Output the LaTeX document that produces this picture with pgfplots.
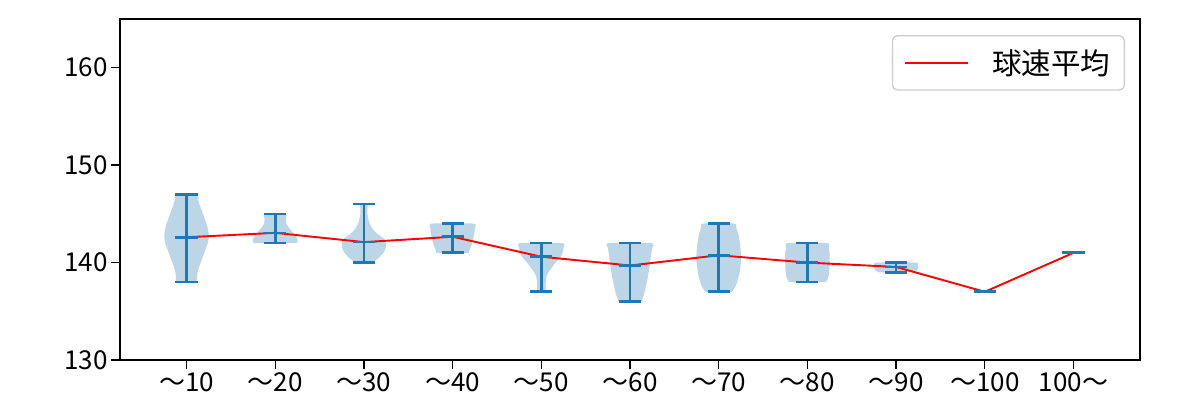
\documentclass[border=0pt]{standalone}
\usepackage{pgfplots}
\pgfplotsset{compat=1.18}
\usepackage{pgfplotstable}
\usepackage{fontspec}
\setmainfont{Noto Sans CJK JP}
\definecolor{c0}{HTML}{1F77B4}
\definecolor{vfill}{HTML}{BCD6E8}

\pgfplotstableread{
p min max mean
1 138 147 142.6
2 142 145 143.05
3 140 146 142.1
4 141 144 142.65
5 137 142 140.6
6 136 142 139.7
7 137 144 140.75
8 138 142 140.0
9 139 140 139.55
10 137 137 137
11 141 141 141
}\stats

\pgfplotstableread{
x y
1 138
1 147
nan nan
2 142
2 145
nan nan
3 140
3 146
nan nan
4 141
4 144
nan nan
5 137
5 142
nan nan
6 136
6 142
nan nan
7 137
7 144
nan nan
8 138
8 142
nan nan
9 139
9 140
}\vlines

% violin outlines: y, half width w, side s (-1 left going up, +1 right going down)
\pgfplotstableread{
y w s
138 0.12 -1
138.5 0.12 -1
139 0.125 -1
139.5 0.14 -1
140 0.16 -1
140.5 0.18 -1
141 0.2 -1
141.5 0.22 -1
142 0.24 -1
142.5 0.25 -1
143 0.25 -1
143.5 0.24 -1
144 0.225 -1
144.5 0.205 -1
145 0.185 -1
145.5 0.165 -1
146 0.145 -1
146.5 0.13 -1
147 0.12 -1
147 0.12 1
146.5 0.13 1
146 0.145 1
145.5 0.165 1
145 0.185 1
144.5 0.205 1
144 0.225 1
143.5 0.24 1
143 0.25 1
142.5 0.25 1
142 0.24 1
141.5 0.22 1
141 0.2 1
140.5 0.18 1
140 0.16 1
139.5 0.14 1
139 0.125 1
138.5 0.12 1
138 0.12 1
}\vA
\pgfplotstableread{
y w s
142 0.245 -1
142.2 0.25 -1
142.5 0.245 -1
143 0.21 -1
143.5 0.16 -1
144 0.125 -1
144.5 0.12 -1
145 0.12 -1
145 0.12 1
144.5 0.12 1
144 0.125 1
143.5 0.16 1
143 0.21 1
142.5 0.245 1
142.2 0.25 1
142 0.245 1
}\vB
\pgfplotstableread{
y w s
140 0.1 -1
140.5 0.17 -1
141 0.22 -1
141.5 0.245 -1
142 0.25 -1
142.5 0.22 -1
143 0.145 -1
143.5 0.095 -1
144 0.065 -1
144.5 0.05 -1
145 0.04 -1
145.5 0.04 -1
146 0.04 -1
146 0.04 1
145.5 0.04 1
145 0.04 1
144.5 0.05 1
144 0.065 1
143.5 0.095 1
143 0.145 1
142.5 0.22 1
142 0.25 1
141.5 0.245 1
141 0.22 1
140.5 0.17 1
140 0.1 1
}\vC
\pgfplotstableread{
y w s
141 0.18 -1
141.5 0.2 -1
142 0.22 -1
142.5 0.235 -1
143 0.245 -1
143.5 0.25 -1
144 0.24 -1
144 0.24 1
143.5 0.25 1
143 0.245 1
142.5 0.235 1
142 0.22 1
141.5 0.2 1
141 0.18 1
}\vD
\pgfplotstableread{
y w s
137 0.05 -1
137.5 0.05 -1
138 0.05 -1
138.5 0.055 -1
139 0.08 -1
139.5 0.12 -1
140 0.16 -1
140.5 0.21 -1
141 0.24 -1
141.5 0.25 -1
142 0.24 -1
142 0.24 1
141.5 0.25 1
141 0.24 1
140.5 0.21 1
140 0.16 1
139.5 0.12 1
139 0.08 1
138.5 0.055 1
138 0.05 1
137.5 0.05 1
137 0.05 1
}\vE
\pgfplotstableread{
y w s
136 0.13 -1
136.5 0.15 -1
137 0.165 -1
138 0.19 -1
139 0.21 -1
140 0.225 -1
141 0.24 -1
141.5 0.25 -1
142 0.245 -1
142 0.245 1
141.5 0.25 1
141 0.24 1
140 0.225 1
139 0.21 1
138 0.19 1
137 0.165 1
136.5 0.15 1
136 0.13 1
}\vF
\pgfplotstableread{
y w s
137 0.15 -1
137.5 0.185 -1
138 0.21 -1
139 0.235 -1
140 0.25 -1
141 0.25 -1
142 0.24 -1
143 0.22 -1
143.5 0.2 -1
144 0.18 -1
144 0.18 1
143.5 0.2 1
143 0.22 1
142 0.24 1
141 0.25 1
140 0.25 1
139 0.235 1
138 0.21 1
137.5 0.185 1
137 0.15 1
}\vG
\pgfplotstableread{
y w s
138 0.21 -1
138.5 0.235 -1
139 0.245 -1
140 0.25 -1
141 0.25 -1
141.5 0.24 -1
142 0.225 -1
142 0.225 1
141.5 0.24 1
141 0.25 1
140 0.25 1
139 0.245 1
138.5 0.235 1
138 0.21 1
}\vH
\pgfplotstableread{
y w s
139 0.2 -1
139.2 0.235 -1
139.5 0.25 -1
139.8 0.245 -1
140 0.22 -1
140 0.22 1
139.8 0.245 1
139.5 0.25 1
139.2 0.235 1
139 0.2 1
}\vI

\newcommand\violin[2]{%
  \addplot[fill=vfill, draw=none, smooth, tension=0.3, forget plot]
    table[x expr=#1+\thisrow{s}*\thisrow{w}, y=y]{#2} -- cycle;
}

\begin{document}
\begin{tikzpicture}
\path[use as bounding box] (-120pt,-40pt) rectangle (1080pt,360pt);
\begin{axis}[
  at={(0pt,0pt)}, anchor=south west,
  scale only axis, width=1020pt, height=341pt,
  xmin=0.25, xmax=11.75, ymin=130, ymax=165,
  xtick={1,2,3,4,5,6,7,8,9,10,11},
  xticklabels={～10,～20,～30,～40,～50,～60,～70,～80,～90,～100,100～},
  ytick={130,140,150,160},
  xtick pos=bottom, ytick pos=left,
  tick align=outside, major tick length=9pt,
  tick style={black, line width=1.3pt},
  axis line style={line width=1.3pt},
  ticklabel style={font=\fontsize{26}{30}\selectfont},
  /pgf/number format/assume math mode=true,
  legend style={at={(1,1)}, anchor=north east, xshift=-15pt, yshift=-16pt,
    draw=black!20, line width=1.3pt, rounded corners=5pt,
    font=\fontsize{29.5}{33}\selectfont, inner xsep=12pt, inner ysep=12pt,
    nodes={inner sep=2pt}, column sep=21pt},
  legend image code/.code={\draw[red, line width=1.9pt] (0pt,0pt) -- (63pt,0pt);},
]
\violin{1}{\vA}
\violin{2}{\vB}
\violin{3}{\vC}
\violin{4}{\vD}
\violin{5}{\vE}
\violin{6}{\vF}
\violin{7}{\vG}
\violin{8}{\vH}
\violin{9}{\vI}

\addplot[c0, line width=2.7pt, unbounded coords=jump, forget plot] table[x=x, y=y]{\vlines};
\addplot[c0, only marks, mark=-, mark size=11.09pt, mark options={line width=2.7pt}, forget plot] table[x=p, y=min]{\stats};
\addplot[c0, only marks, mark=-, mark size=11.09pt, mark options={line width=2.7pt}, forget plot] table[x=p, y=max]{\stats};
\addplot[c0, only marks, mark=-, mark size=11.09pt, mark options={line width=2.7pt}, forget plot] table[x=p, y=mean]{\stats};

\addplot[red, line width=1.9pt] table[x=p, y=mean]{\stats};
\addlegendentry{球速平均}
\end{axis}
\end{tikzpicture}
\end{document}
